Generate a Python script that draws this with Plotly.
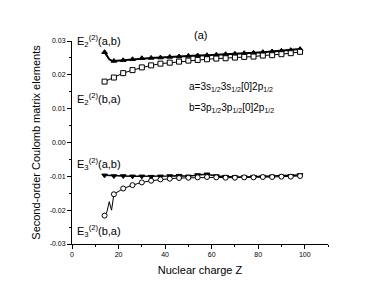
import plotly.graph_objects as go

# ---- data ----
z_main = [14, 18, 22, 26, 30, 34, 38, 42, 46, 50, 54, 58, 62, 66, 70, 74, 78, 82, 86, 90, 94, 98]

z_e2ab = [14, 15, 16, 17] + z_main[1:]
e2ab = [0.0267, 0.0255, 0.0246, 0.0242,
        0.0241, 0.0243, 0.0246, 0.0249, 0.0250, 0.0251, 0.0253, 0.0254, 0.0256,
        0.0257, 0.0258, 0.0259, 0.0261, 0.0262, 0.0264, 0.0265, 0.0267, 0.0269,
        0.0271, 0.0273, 0.0276]

z_e2ba = z_main
e2ba = [0.0180, 0.0192, 0.0205, 0.0214, 0.0222, 0.0228, 0.0233, 0.0236, 0.0239,
        0.0242, 0.0244, 0.0246, 0.0248, 0.0249, 0.0251, 0.0253, 0.0254, 0.0257,
        0.0258, 0.0261, 0.0264, 0.0268]

z_e3ab = z_main
e3ab = [-0.0097, -0.0099, -0.0099, -0.0100, -0.0100, -0.0101, -0.0100, -0.0099,
        -0.0098, -0.0100, -0.0096, -0.0094, -0.0099, -0.0101, -0.0102, -0.0102,
        -0.0101, -0.0101, -0.0100, -0.0100, -0.0099, -0.0096]

z_e3ba = [14, 15, 16, 17] + z_main[1:]
e3ba = [-0.0216, -0.0205, -0.0175, -0.0200,
        -0.0153, -0.0136, -0.0126, -0.0118, -0.0113, -0.0109, -0.0107, -0.0105,
        -0.0104, -0.0103, -0.0102, -0.0103, -0.0104, -0.0104, -0.0103, -0.0103,
        -0.0102, -0.0102, -0.0101, -0.0101, -0.0099]

y_ticks = [-0.03, -0.02, -0.01, 0.00, 0.01, 0.02, 0.03]
y_ticklabels = ["-0.03", "-0.02", "-0.01", "0.00", "0.01", "0.02", "0.03"]
x_ticks = [0, 20, 40, 60, 80, 100]

series_labels = ["E<sub>2</sub><sup>(2)</sup>(a,b)", "E<sub>2</sub><sup>(2)</sup>(b,a)",
                 "E<sub>3</sub><sup>(2)</sup>(a,b)", "E<sub>3</sub><sup>(2)</sup>(b,a)"]
label_y = [0.0300, 0.0128, -0.0065, -0.0262]
state_labels = ["a=3s<sub>1/2</sub>3s<sub>1/2</sub>[0]2p<sub>1/2</sub>",
                "b=3p<sub>1/2</sub>3p<sub>1/2</sub>[0]2p<sub>1/2</sub>"]
state_y = [0.0163, 0.0103]

FONT = "Arial, Liberation Sans, sans-serif"

fig = go.Figure()


def add_series(z, v, symbol, fill, lw, msize):
    fig.add_trace(go.Scatter(x=z, y=v, mode="lines",
                             line=dict(color="black", width=lw),
                             showlegend=False, hoverinfo="skip"))
    mz = [a for a in z if a in z_main]
    mv = [b for a, b in zip(z, v) if a in z_main]
    fig.add_trace(go.Scatter(x=mz, y=mv, mode="markers",
                             marker=dict(symbol=symbol, size=msize, color=fill,
                                         line=dict(color="black", width=1)),
                             showlegend=False, hoverinfo="skip"))


add_series(z_e2ab, e2ab, "triangle-up", "black", 2, 5)
add_series(z_e2ba, e2ba, "square", "white", 1, 5)
add_series(z_e3ab, e3ab, "triangle-down", "black", 1.5, 5)
add_series(z_e3ba, e3ba, "circle", "white", 1, 5)

fig.update_layout(
    width=374, height=286,
    margin=dict(l=64, r=54, t=33, b=50),
    paper_bgcolor="white", plot_bgcolor="white",
    font=dict(family=FONT, color="black"),
    xaxis=dict(range=[0, 110], tickvals=x_ticks, showgrid=False, zeroline=False,
               showline=True, linecolor="black", linewidth=1,
               ticks="outside", ticklen=4, tickcolor="black",
               minor=dict(dtick=10, ticks="outside", ticklen=2, tickcolor="black"),
               tickfont=dict(size=7, family=FONT),
               title=dict(text="Nuclear charge Z", font=dict(size=11, family=FONT), standoff=8)),
    yaxis=dict(range=[-0.03, 0.03], tickvals=y_ticks, ticktext=y_ticklabels,
               showgrid=False, zeroline=False,
               showline=True, linecolor="black", linewidth=1,
               ticks="outside", ticklen=4, tickcolor="black",
               minor=dict(dtick=0.005, tick0=0, ticks="outside", ticklen=2, tickcolor="black"),
               tickfont=dict(size=7, family=FONT),
               title=dict(text="Second-order Coulomb matrix elements", font=dict(size=11, family=FONT), standoff=6)),
)

for txt, yv in zip(series_labels, label_y):
    fig.add_annotation(x=1.5, y=yv, xref="x", yref="y", text=txt,
                       xanchor="left", yanchor="middle", showarrow=False,
                       font=dict(family=FONT, size=11, color="black"))

for txt, yv in zip(state_labels, state_y):
    fig.add_annotation(x=49.5, y=yv, xref="x", yref="y", text=txt,
                       xanchor="left", yanchor="middle", showarrow=False,
                       font=dict(family=FONT, size=10, color="black"))

fig.add_annotation(x=0.47, y=1.0, xref="paper", yref="paper", text="(a)",
                   xanchor="left", yanchor="bottom", showarrow=False, yshift=-2,
                   font=dict(family=FONT, size=11, color="black"))

fig.write_html("out.html")
